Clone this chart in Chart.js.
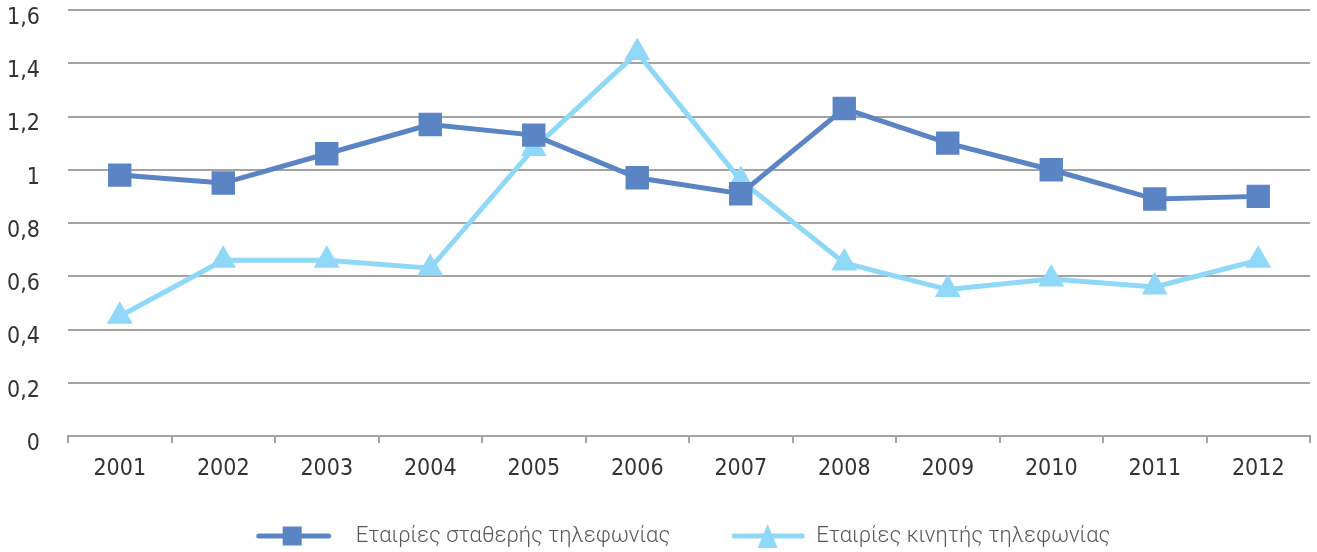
<!DOCTYPE html>
<html lang="el">
<head>
    <meta charset="UTF-8">
    <title>Εταιρίες τηλεφωνίας</title>
    <script src="https://cdn.jsdelivr.net/npm/chart.js"></script>
    <style>
        html, body { margin: 0; padding: 0; background: #fff; }
        #wrap { width: 1317px; height: 552px; }
    </style>
</head>
<body>
    <div id="wrap"><canvas id="chart" width="1317" height="552"></canvas></div>

    <script>
        // data
        const years = ['2001', '2002', '2003', '2004', '2005', '2006', '2007', '2008', '2009', '2010', '2011', '2012'];
        const fixedLine = [0.98, 0.95, 1.06, 1.17, 1.13, 0.97, 0.91, 1.23, 1.10, 1.00, 0.89, 0.90];
        const mobile = [0.45, 0.66, 0.66, 0.63, 1.08, 1.44, 0.96, 0.65, 0.55, 0.59, 0.56, 0.66];
        const yTickValues = [0, 0.2, 0.4, 0.6, 0.8, 1, 1.2, 1.4, 1.6];
        const yTickLabels = ['0', '0,2', '0,4', '0,6', '0,8', '1', '1,2', '1,4', '1,6'];
        const seriesNames = ['Εταιρίες σταθερής τηλεφωνίας', 'Εταιρίες κινητής τηλεφωνίας'];

        const darkBlue = '#5B84C5';
        const lightBlue = '#8FD8F7';
        const gridGray = '#A3A3A3';
        const axisFont = { family: "'Liberation Sans Narrow', 'DejaVu Sans Condensed', Roboto, sans-serif", size: 23 };

        // legend swatch: line with the marker in the middle, blank space left/right
        // (both swatches share one width, the legend has a single pointStyleWidth)
        const swatchWidth = 125;
        const legendShiftX = 10;
        function legendSwatch(color, shape, padLeft, len) {
            const c = document.createElement('canvas');
            c.width = swatchWidth; c.height = 28;
            const g = c.getContext('2d');
            g.strokeStyle = color;
            g.lineWidth = 5;
            g.lineCap = 'round';
            g.beginPath(); g.moveTo(padLeft + 3, 14); g.lineTo(padLeft + len - 3, 14); g.stroke();
            g.fillStyle = color;
            const cx = padLeft + 36.5;
            if (shape === 'rect') {
                g.fillRect(cx - 9.5, 4.5, 19, 19);
            } else {
                g.beginPath(); g.moveTo(cx, 2); g.lineTo(cx + 10, 26); g.lineTo(cx - 10, 26); g.closePath(); g.fill();
            }
            return c;
        }
        const swatches = [legendSwatch(darkBlue, 'rect', 36, 76), legendSwatch(lightBlue, 'triangle', 51, 74)];

        new Chart(document.getElementById('chart'), {
            type: 'line',
            data: {
                labels: years,
                datasets: [
                    {
                        label: seriesNames[0],
                        data: fixedLine,
                        borderColor: darkBlue,
                        backgroundColor: darkBlue,
                        borderWidth: 5,
                        pointStyle: 'rect',
                        pointRadius: 13,
                        pointHoverRadius: 13,
                        tension: 0
                    },
                    {
                        label: seriesNames[1],
                        data: mobile,
                        borderColor: lightBlue,
                        backgroundColor: lightBlue,
                        borderWidth: 5,
                        pointStyle: 'triangle',
                        pointRadius: 10,
                        pointHoverRadius: 10,
                        tension: 0
                    }
                ]
            },
            options: {
                responsive: false,
                animation: false,
                layout: { autoPadding: false, padding: { top: 0, right: 7, left: 0, bottom: -5 } },
                plugins: {
                    tooltip: { enabled: false },
                    legend: {
                        position: 'bottom',
                        labels: {
                            usePointStyle: true,
                            pointStyleWidth: swatchWidth,
                            padding: 10,
                            color: '#595959',
                            font: { family: 'Roboto', size: 22, weight: '300' },
                            generateLabels: chart => chart.data.datasets.map((ds, i) => ({
                                text: ds.label,
                                pointStyle: swatches[i],
                                fillStyle: ds.borderColor,
                                strokeStyle: ds.borderColor,
                                lineWidth: 0,
                                hidden: false,
                                datasetIndex: i,
                                fontColor: '#595959'
                            }))
                        }
                    }
                },
                scales: {
                    x: {
                        offset: true,
                        grid: {
                            offset: true,
                            drawOnChartArea: false,
                            drawTicks: true,
                            tickLength: 7,
                            color: gridGray,
                            lineWidth: 2
                        },
                        border: { display: true, color: gridGray, width: 2 },
                        ticks: {
                            color: '#333',
                            padding: 12,
                            maxRotation: 0,
                            font: axisFont
                        },
                        afterFit: axis => { axis.height = 79; }
                    },
                    y: {
                        min: 0,
                        max: 1.6,
                        afterBuildTicks: axis => { axis.ticks = yTickValues.map(v => ({ value: v })); },
                        grid: { color: gridGray, lineWidth: 2, drawTicks: false },
                        border: { display: false },
                        ticks: {
                            color: '#333',
                            padding: 28,
                            labelOffset: 8,
                            font: axisFont,
                            callback: (v, i) => yTickLabels[i]
                        },
                        afterFit: axis => {
                            axis.width = 68;
                            axis.paddingTop = 10;
                            axis.paddingBottom = 0;
                        }
                    }
                }
            },
            plugins: [{
                // nudge the legend to the right, as in the original
                id: 'legendShift',
                afterLayout: chart => {
                    chart.legend.left += legendShiftX;
                    chart.legend.right += legendShiftX;
                }
            }]
        });
    </script>
</body>
</html>
